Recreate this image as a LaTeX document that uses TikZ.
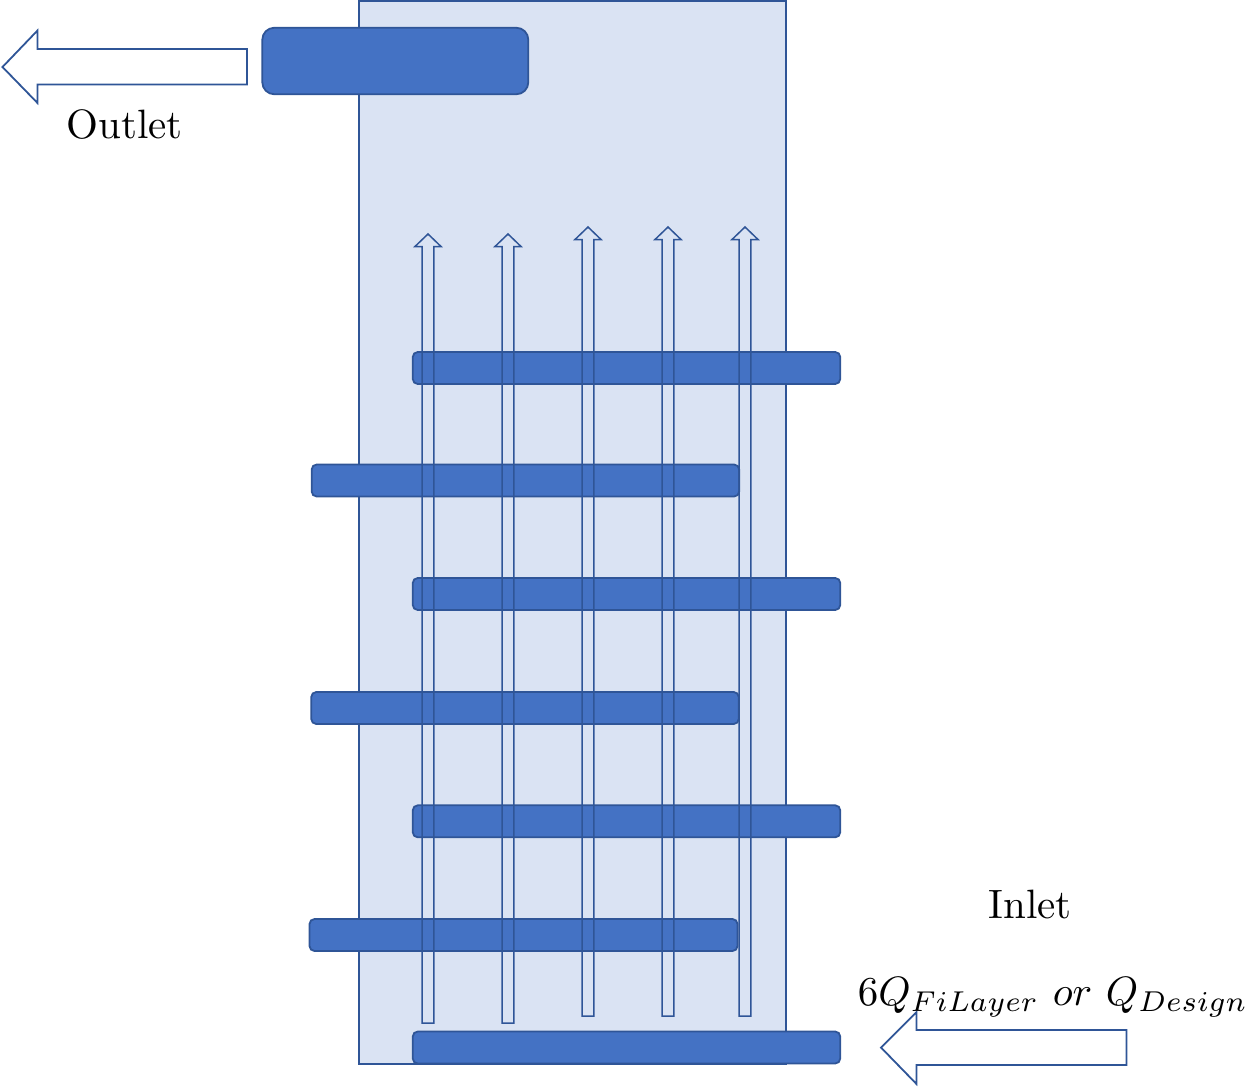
\documentclass[tikz,border=0pt]{standalone}
\definecolor{shellfill}{HTML}{DAE3F3}
\definecolor{edgeblue}{HTML}{2F5597}
\definecolor{bafflefill}{HTML}{4472C4}
\begin{document}
\begin{tikzpicture}[x=1pt,y=-1pt,
  baffle/.style={draw=edgeblue, fill=bafflefill, line width=1.8pt, rounded corners=5pt, inner sep=0pt, minimum height=32pt},
  flowarrow/.style={draw=edgeblue, line width=1.5pt, line join=miter},
  bigarrow/.style={draw=edgeblue, fill=white, line width=1.8pt, line join=miter},
  lbl/.style={inner sep=0pt, scale=4.1}]
\useasboundingbox (0,0) rectangle (1249,1087);
% shell
\draw[draw=edgeblue, fill=shellfill, line width=1.8pt] (359,1) rectangle (786,1064);
% outlet header
\node[baffle, rounded corners=12pt, minimum width=266pt, minimum height=66.5pt] (header) at (395.3,61) {};
% baffles
\node[baffle, minimum width=427.5pt] (b1) at (626.5,368) {};
\node[baffle, minimum width=427.5pt] (b2) at (525.4,480.5) {};
\node[baffle, minimum width=427.5pt] (b3) at (626.5,594) {};
\node[baffle, minimum width=427.5pt] (b4) at (525,708) {};
\node[baffle, minimum width=427.5pt] (b5) at (626.5,821.3) {};
\node[baffle, minimum width=428pt] (b6) at (523.5,935) {};
\node[baffle, minimum width=427.5pt] (b7) at (626.5,1047.5) {};
% internal flow arrows
\foreach \cx/\yb/\yt in {428/1023/234, 508/1023/234, 588/1016/227, 668/1016/227, 745/1016/227}{
  \draw[flowarrow] (\cx-5.8,\yb) -- (\cx-5.8,\yt+12.5) -- (\cx-13,\yt+12.5) -- (\cx,\yt)
     -- (\cx+13,\yt+12.5) -- (\cx+5.8,\yt+12.5) -- (\cx+5.8,\yb) -- cycle;
}
% outlet arrow
\coordinate (outtip) at (2.5,67);
\draw[bigarrow] (outtip) -- (37.5,30.5) -- (37.5,49) -- (247,49) -- (247,84.5) -- (37.5,84.5) -- (37.5,103) -- cycle;
% inlet arrow
\coordinate (intip) at (881,1047.5);
\draw[bigarrow] (intip) -- (916.5,1012) -- (916.5,1030) -- (1126.5,1030) -- (1126.5,1065) -- (916.5,1065) -- (916.5,1084) -- cycle;
% labels
\node[lbl, anchor=base] (outlet) at (124.5,138) {Outlet};
\node[lbl, anchor=base] (inlet) at (1030,918) {Inlet};
\node[lbl, anchor=base west] (flow) at (857,1005) {$6Q_{FiLayer}\ or\ Q_{Design}$};
\end{tikzpicture}
\end{document}
